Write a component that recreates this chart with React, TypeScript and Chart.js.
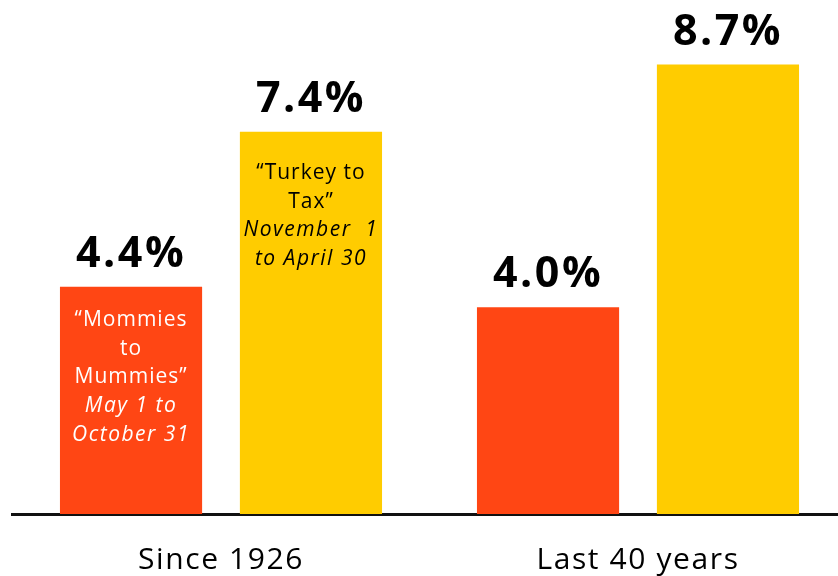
import React, { useEffect, useRef } from 'react';
import { Chart, registerables } from 'chart.js';

Chart.register(...registerables);

const categories = ['Since 1926', 'Last 40 years'];
const mayOctValues = [4.4, 4.0];
const novAprValues = [7.4, 8.7];
const mayOctNote = ['\u201CMommies', 'to', 'Mummies\u201D', 'May 1 to', 'October 31'];
const mayOctNoteItalic = [false, false, false, true, true];
const novAprNote = ['\u201CTurkey to', 'Tax\u201D', 'November  1', 'to April 30'];
const novAprNoteItalic = [false, false, true, true];
const yMax = 9.95;

const RED = '#FF4614';
const YELLOW = '#FFCC00';
const FONT = '"Open Sans", "Liberation Sans", sans-serif';

const textPlugin = {
  id: 'textPlugin',
  afterDatasetsDraw(chart: any) {
    const ctx = chart.ctx;
    ctx.save();
    ctx.textAlign = 'center';
    ctx.textBaseline = 'alphabetic';
    // value labels
    chart.data.datasets.forEach((ds: any, di: number) => {
      const meta = chart.getDatasetMeta(di);
      meta.data.forEach((bar: any, i: number) => {
        ctx.font = `bold 43px ${FONT}`;
        ctx.letterSpacing = '2.5px';
        ctx.fillStyle = '#000';
        ctx.fillText(Number(ds.data[i]).toFixed(1) + '%', bar.x, bar.y - 20);
      });
    });
    // notes in first category bars
    const notes = [
      { lines: mayOctNote, italic: mayOctNoteItalic, color: '#fff', offset: 39 },
      { lines: novAprNote, italic: novAprNoteItalic, color: '#000', offset: 47 },
    ];
    notes.forEach((n, di) => {
      const bar = chart.getDatasetMeta(di).data[0];
      ctx.fillStyle = n.color;
      n.lines.forEach((line, li) => {
        ctx.letterSpacing = n.italic[li] ? '1.5px' : '1px';
        ctx.font = `${n.italic[li] ? 'italic ' : ''}21px ${FONT}`;
        ctx.fillText(line, bar.x, bar.y + n.offset + li * 28.8);
      });
    });
    // category labels
    const xs = chart.scales.x;
    ctx.font = `30px ${FONT}`;
    ctx.letterSpacing = '1.6px';
    ctx.fillStyle = '#000';
    categories.forEach((c, i) => {
      ctx.fillText(c, xs.getPixelForValue(i), 569);
    });
    ctx.restore();
  },
};

export default function App() {
  const ref = useRef<HTMLCanvasElement>(null);
  useEffect(() => {
    if (!ref.current) return;
    const chart = new Chart(ref.current, {
      type: 'bar',
      data: {
        labels: categories,
        datasets: [
          {
            label: 'May 1 to October 31',
            data: mayOctValues,
            backgroundColor: RED,
            borderWidth: 0,
            categoryPercentage: 0.863,
            barPercentage: 0.79,
          },
          {
            label: 'November 1 to April 30',
            data: novAprValues,
            backgroundColor: YELLOW,
            borderWidth: 0,
            categoryPercentage: 0.863,
            barPercentage: 0.79,
          },
        ],
      },
      options: {
        animation: false,
        responsive: false,
        maintainAspectRatio: false,
        layout: { padding: { left: 12.5, right: 13.5, top: 0, bottom: 0 } },
        plugins: {
          legend: { display: false },
          tooltip: { enabled: false },
        },
        scales: {
          x: {
            display: true,
            grid: { display: false },
            ticks: { display: false },
            border: { display: true, color: '#111', width: 3 },
            afterFit: (scale: any) => {
              scale.height = 62;
            },
          },
          y: {
            display: false,
            min: 0,
            max: yMax,
          },
        },
      },
      plugins: [textPlugin],
    });
    let alive = true;
    if ((document as any).fonts) {
      Promise.all([
        document.fonts.load(`bold 43px "Open Sans"`),
        document.fonts.load(`21px "Open Sans"`),
        document.fonts.load(`italic 21px "Open Sans"`),
      ]).then(() => {
        if (alive) chart.update();
      }).catch(() => {});
    }
    return () => {
      alive = false;
      chart.destroy();
    };
  }, []);
  return (
    <div
      style={{
        position: 'absolute',
        left: 0,
        top: 0,
        width: 838,
        height: 576,
        overflow: 'hidden',
        background: '#fff',
      }}
    >
      <canvas ref={ref} width={860} height={576} style={{ display: 'block', width: 860, height: 576 }} />
    </div>
  );
}
